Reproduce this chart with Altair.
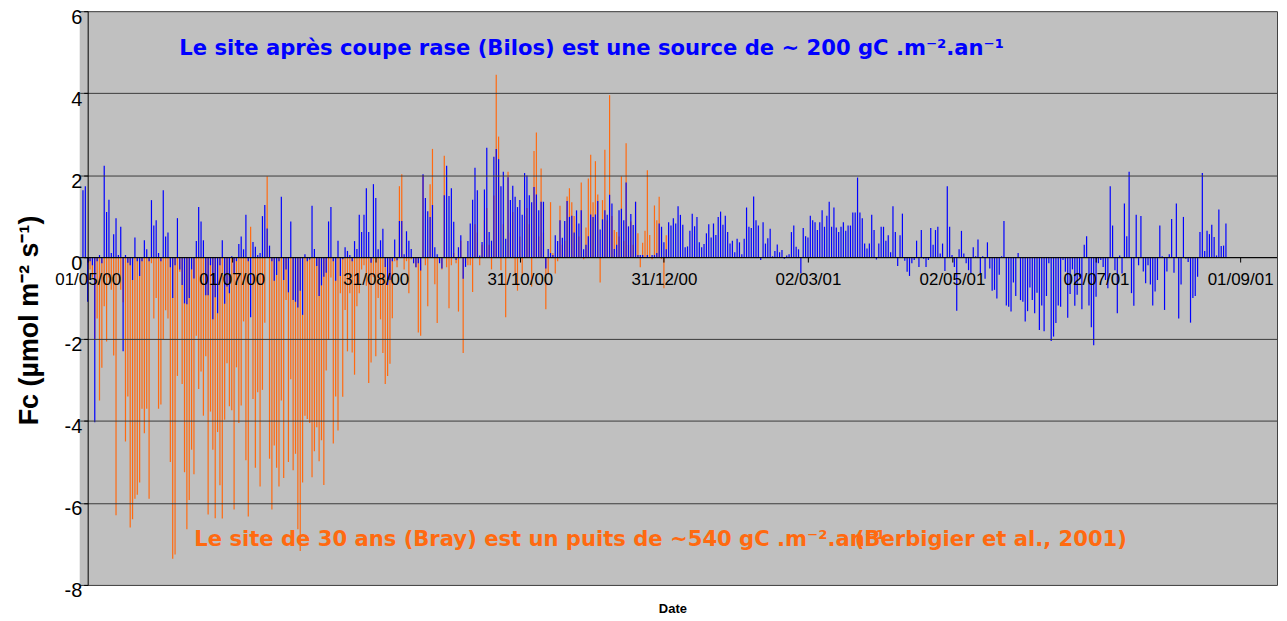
import altair as alt
import pandas as pd

# ---- data (daily net CO2 flux, µmol m-2 s-1) ----
BILOS_START = "2000-04-29"   # clear-cut site (blue)
BRAY_START = "2000-05-01"    # 30-year-old stand (orange)

bilos_a = [1.63, 1.73, -1.09, -0.1, -0.2, -4.03, -0.1, 0.05, -0.15, 2.23,
           1.1, 1.4, 0.1, 0.56, 0.95, 0.05, 0.74, -2.3, 0.05, -0.14,
           -0.2, -0.56, 0.48, -0.1, -0.46, -0.1, 0.41, 0.19, -0.1, 1.39,
           0.77, 0.9, 0.1, -0.1, 1.63, 0.5, 0.6, -0.25, -1.0, -0.2,
           0.95, -0.3, -0.68, -1.13, -1.15, -1.0, -0.3, -0.52, 0.39, 1.22,
           0.87, 0.41, -0.93, -0.93, -0.2, -1.52, -0.98, -1.37, -0.2, 0.41,
           -1.14, -0.72, -0.88, 0.02, -0.4, -0.1, 0.32, 0.5, 0.19, 1.03,
           -0.1, -1.47, 0.37, 0.25, 0.05, 0.1, 1.0, 1.27, 0.7, 0.28,
           -0.1, -0.58, -0.44, -0.1, 1.47, -0.56, -0.3, -0.86, 0.87, -1.05,
           -1.09, -1.23, -0.82, -1.41, 0.07, -0.1, -0.06, 1.25, 0.2, -0.22,
           -0.95, -0.69, -0.48, -0.38, 0.87, 1.22, -0.1, -0.58, 0.4, -0.46,
           -0.05, 0.24, 0.15, 0.05, -0.1, 0.39, 0.2, 1.03, 0.61, 1.03,
           1.68, 0.61, -0.14]
bilos_b = [1.78, 1.44, 0.19, 0.41, 0.69, -0.24, -0.68, -0.56, -0.1, 0.43,
           -0.08, 0.88, 0.88, 0.07, 0.63, 0.4, 0.2, -0.15, -0.25, -0.15,
           -0.33, 2.02, 1.44, 1.12, 0.98, 1.27, 0.24, 0.07, -0.15, -0.28,
           1.51, 2.23, 1.49, 1.68, 0.86, -0.07, 0.24, 0.53, -0.53, -0.24,
           0.39, 0.82, 1.4, 2.18, 1.63, 0.04, 0.37, 1.65, 2.67, 0.61,
           0.4, 2.45, 2.64, 2.39, 1.73, 2.08, 0.45, 1.95, 1.39, 1.74,
           1.47, 1.22, 1.39, 1.03, 2.05, 1.99, 1.51, 1.34, 1.71, 1.53,
           1.14, 1.35, 1.35, -0.28, 0.2, 0.1, 0.05, 0.53, 0.39, 0.9,
           0.47, 0.88, 1.37, 0.98, 1.01, 0.6, 1.14, 0.82, 1.14, 0.19,
           0.3, 0.51, 1.04, 0.98, 1.04, 1.37, 0.67, 0.92, 1.14, 1.03,
           1.52, 1.31, 0.2, 0.3, 1.14, 1.18, 0.9, 1.82, 0.75, 1.05,
           0.78, 1.35, 0.05, 0.05, 0.05, 0.0, 0.05, 0.0, 0.05, 0.05,
           0.1, 0.82, 0.74, 0.36, 0.19]
bilos_c = [0.85, 0.77, 0.95, 0.82, 1.24, 1.03, 0.79, 0.24, 0.26, 0.64,
           1.06, 0.75, 0.98, 0.36, 0.24, 0.32, 0.58, 0.8, 0.48, 0.82,
           0.54, 0.98, 1.11, 0.79, 1.01, 0.61, 0.33, 0.4, 0.12, 0.45,
           0.36, 0.07, 0.45, 1.21, 0.74, 0.71, 1.48, 0.9, 0.77, -0.07,
           0.85, 0.33, 0.46, 0.69, 0.02, 0.15, 0.31, 0.12, 0.17, -0.04,
           0.04, 0.07, 0.61, 0.77, 0.25, 0.19, -0.4, 0.71, 0.51, 0.48,
           1.01, 0.9, 0.85, 0.66, 0.85, 1.14, 0.74, 1.01, 1.35, 0.74,
           1.21, 0.72, 0.61, 0.74, 0.85, 0.64, 0.77, 0.77, 1.09, 1.09,
           1.94, 1.09, 0.95, 0.33, 0.21, 0.33, 1.03, 0.66, -0.06, 0.33,
           0.74, 0.74, 0.4, 0.53, 0.12, 1.24, 0.61, -0.22, 0.53, 1.06,
           -0.09, -0.36, -0.46, -0.15, -0.07, 0.4, -0.24, 0.66, -0.04, -0.24,
           -0.07, 0.71, 0.3, 0.66, 0.74, 0.09, 0.33, -0.34, 1.73, 0.74,
           0.05]
bilos_d = [-0.24, -1.31, 0.19, 0.64, 0.09, -0.15, -0.32, -0.4, 0.24, 0.02,
           0.43, -0.4, 0.02, -0.53, 0.36, -0.28, -0.82, -0.8, -1.01, -0.43,
           0.02, 0.88, -1.18, -1.21, -1.33, -0.62, -0.95, 0.1, -1.05, -1.09,
           -1.57, -1.32, -0.74, -1.05, -1.37, -0.87, -1.78, -1.18, -1.81, -0.95,
           -0.15, -2.05, -1.94, -1.61, -1.18, -1.21, -0.07, -0.36, -1.48, -0.9,
           -0.3, -1.19, -0.92, -0.48, -1.27, 0.3, 0.51, -1.18, -1.71, -2.15,
           -0.97, -0.15, -0.07, -0.24, -0.56, -0.76, 1.73, 0.77, -0.32, -1.37,
           0.04, -0.4, 1.31, 0.51, 2.08, -0.88, -1.19, 1.03, -0.2, 1.0,
           -0.35, -0.64, -0.2, -0.67, -1.18, -0.84, -0.56, 0.77, 0.02, -1.29,
           -0.35, 0.07, 0.93, -0.38, 1.31, -1.5, -0.67, 0.98, -0.04, -0.12,
           -1.6, -1.0, -0.95, -0.48, 0.61, 2.05, 0.15, 0.64, 0.56, 0.79,
           0.49, 0.04, 1.16, 0.27, 0.28, 0.82]

bray_a = [-0.2, -0.3, -0.5, -2.0, -1.5, -3.5, -2.7, -1.2, -2.06, -0.5,
          -0.8, -2.4, -6.3, -0.4, -0.8, -1.1, -4.5, -3.4, -6.6, -6.4,
          -5.9, -5.8, -5.5, -3.7, -4.3, -3.7, -5.9, -0.15, -1.5, -1.0,
          -3.7, -3.6, -2.0, -1.3, -1.5, -5.0, -7.36, -7.26, -2.9, -0.36,
          -3.1, -5.25, -6.64, -5.93, -4.7, -5.3, -1.92, -3.22, -2.79, -3.87,
          -2.42, -6.28, -3.77, -4.7, -6.37, -4.27, -5.57, -6.38, -3.97, -2.59,
          -3.64, -3.74, -6.16, -2.69, -4.05, -3.62, -1.57, -4.96, -6.33, 0.74,
          -3.46, -5.14, -3.3, -5.6, -3.24, -1.6, 1.97, -4.92, -6.16, -4.6,
          -5.14, -5.6, -3.5, -5.39, -1.05, -5.0, -2.98, -5.2, -4.8, -6.64,
          -7.17, -5.5, -3.87, -3.95, -4.05, -5.37, -4.74, -4.15, -4.98, -4.47,
          -5.56, -2.77, -2.02, -0.5, -4.55, -3.4, -4.23, -0.88, -3.41, -1.29,
          -2.3, -0.88, -2.33, -2.87, -1.2, -0.88, -0.3, -0.2, -0.7, -3.07,
          -2.57]
bray_b = [-0.48, -2.42, -1.0, -1.52, -2.34, -3.1, -2.9, -2.6, -1.49, -0.1,
          -0.25, 1.73, 2.02, -0.3, -0.1, -0.88, -0.05, -0.15, -0.25, -1.84,
          -1.92, 2.0, -0.2, -1.2, 1.78, 2.64, -0.66, -1.61, -0.1, -0.3,
          2.47, -0.25, -1.25, -0.2, 0.1, -0.15, -1.33, 0.4, -2.34, -0.15,
          -0.2, -0.2, -0.85, 0.8, 0.6, -0.2, 0.3, 0.9, 1.2, 0.3,
          -0.3, 1.5, 4.45, 2.94, -0.32, 0.8, -1.47, 2.08, 0.6, 1.1,
          -0.4, -0.82, 0.5, -0.4, 1.0, 1.2, 0.8, -0.72, 2.59, 3.04,
          0.5, 2.16, 0.6, -1.27, -0.4, 1.34, 0.1, -0.4, -0.1, 1.25,
          0.3, 0.4, 1.48, 1.68, 1.34, 1.0, 0.8, 0.5, 1.82, -0.05,
          0.72, 1.92, 2.5, 1.34, 2.34, 1.53, -0.62, 1.39, 2.62, 0.9,
          3.95, 1.0, 0.66, 0.61, 0.5, 1.97, 0.4, 2.78, 0.3, 0.87,
          0.3, 1.35, 0.58, -0.25, 0.35, 0.64, 2.12, 0.54, -0.05, 1.26,
          0.9, 1.47, -0.05, -0.76, 0.53]

tick_dates = [(2000, 5, 1), (2000, 7, 1), (2000, 8, 31), (2000, 10, 31),
              (2000, 12, 31), (2001, 3, 2), (2001, 5, 2), (2001, 7, 2),
              (2001, 9, 1)]
y_ticks = [-8, -6, -4, -2, 0, 2, 4, 6]

text_bilos = "Le site après coupe rase (Bilos) est une source de  ~ 200 gC .m⁻².an⁻¹"
text_bray = "Le site de 30 ans (Bray) est un puits de  ~540 gC .m⁻².an⁻¹"
text_ref = "(Berbigier et al., 2001)"

BLUE = "#0000ff"
ORANGE = "#ff6a10"
FONT = "Liberation Sans"
TFONT = "DejaVu Sans"


def series(start, values):
    d = pd.date_range(start, periods=len(values), freq="D")
    return pd.DataFrame({"date": d.strftime("%Y-%m-%d"), "fc": values, "zero": 0.0})


blue_df = series(BILOS_START, bilos_a + bilos_b + bilos_c + bilos_d)
orange_df = series(BRAY_START, bray_a + bray_b)

W, H = 1202, 576
y_min, y_max = -8, 6
zero_from_bottom = H * (0 - y_min) / (y_max - y_min)

x_scale = alt.Scale(
    type="utc",
    domain=[alt.DateTime(year=2000, month=4, date=27, hours=15, utc=True),
            alt.DateTime(year=2001, month=9, date=16, hours=15, utc=True)],
)
y_scale = alt.Scale(domain=[y_min, y_max], nice=False, zero=False)

x_axis = alt.Axis(
    values=[alt.DateTime(year=a, month=b, date=c, utc=True) for a, b, c in tick_dates],
    labelExpr="utcFormat(datum.value, '%d/%m/%y')",
    labelFontSize=17, labelColor="black", labelFont=FONT,
    labelFlush=False, labelOverlap=False, labelPadding=10,
    tickSize=5, tickColor="black", domainColor="black", domainWidth=1,
    offset=-zero_from_bottom, grid=False, zindex=1,
    title="Date", titleFontSize=13, titleFontWeight="bold", titleFont=FONT,
    titleColor="black", titleY=zero_from_bottom + 24, titleX=595,
    titleBaseline="middle",
)
y_axis = alt.Axis(
    values=y_ticks,
    labelExpr="datum.value < 0 ? '-' + abs(datum.value) : '' + datum.value",
    labelFontSize=20, labelColor="black", labelFont=FONT,
    labelPadding=2, labelOffset=6,
    tickSize=4, tickColor="black", domainColor="black", domainWidth=1,
    offset=-8, grid=True, gridColor="#3a3a3a", gridWidth=1, zindex=1,
    title="Fc (µmol m⁻² s⁻¹)", titleFontSize=27, titleFontWeight="bold",
    titleFont=FONT, titleColor="black", titleAngle=-90,
    titleX=-58, titleY=310, titleAlign="center", titleBaseline="middle",
)
# plain frame line on the right edge of the plot area
y_axis_right = alt.Axis(
    orient="right", values=y_ticks, labels=False, ticks=False, grid=False,
    domain=True, domainColor="#404040", domainWidth=1, title=None, zindex=1,
)

orange_layer = alt.Chart(orange_df).mark_rule(color=ORANGE, strokeWidth=1.2).encode(
    x=alt.X("date:T", scale=x_scale, axis=x_axis),
    y=alt.Y("fc:Q", scale=y_scale, axis=y_axis),
    y2="zero:Q",
)
blue_layer = alt.Chart(blue_df).mark_rule(color=BLUE, strokeWidth=1.2).encode(
    x=alt.X("date:T", scale=x_scale, axis=x_axis),
    y=alt.Y("fc:Q", scale=y_scale, axis=y_axis),
    y2="zero:Q",
)
frame_layer = alt.Chart(blue_df).mark_rule(opacity=0).encode(
    x=alt.X("date:T", scale=x_scale, axis=x_axis),
    y=alt.Y("fc:Q", scale=y_scale, axis=y_axis_right),
)

t_bilos = alt.Chart(pd.DataFrame({"t": [text_bilos]})).mark_text(
    align="left", baseline="middle", fontSize=21.2, fontWeight="bold",
    font=TFONT, color=BLUE,
).encode(text="t:N", x=alt.value(100), y=alt.value(38))

t_bray = alt.Chart(pd.DataFrame({"t": [text_bray]})).mark_text(
    align="left", baseline="middle", fontSize=21.2, fontWeight="bold",
    font=TFONT, color=ORANGE,
).encode(text="t:N", x=alt.value(115), y=alt.value(531))

t_ref = alt.Chart(pd.DataFrame({"t": [text_ref]})).mark_text(
    align="left", baseline="middle", fontSize=21.2, fontWeight="bold",
    font=TFONT, color=ORANGE,
).encode(text="t:N", x=alt.value(778), y=alt.value(531))

bars = alt.layer(orange_layer, blue_layer, t_bilos, t_bray, t_ref)

chart = alt.layer(bars, frame_layer).resolve_scale(y="independent").properties(
    width=W, height=H,
    background="white",
    autosize=alt.AutoSizeParams(type="none"),
    padding={"left": 72, "top": 2, "right": 2, "bottom": 34},
).configure_view(
    fill="#c0c0c0", stroke=None,
)

chart.save("out.html", embed_options={"renderer": "svg", "actions": False})
